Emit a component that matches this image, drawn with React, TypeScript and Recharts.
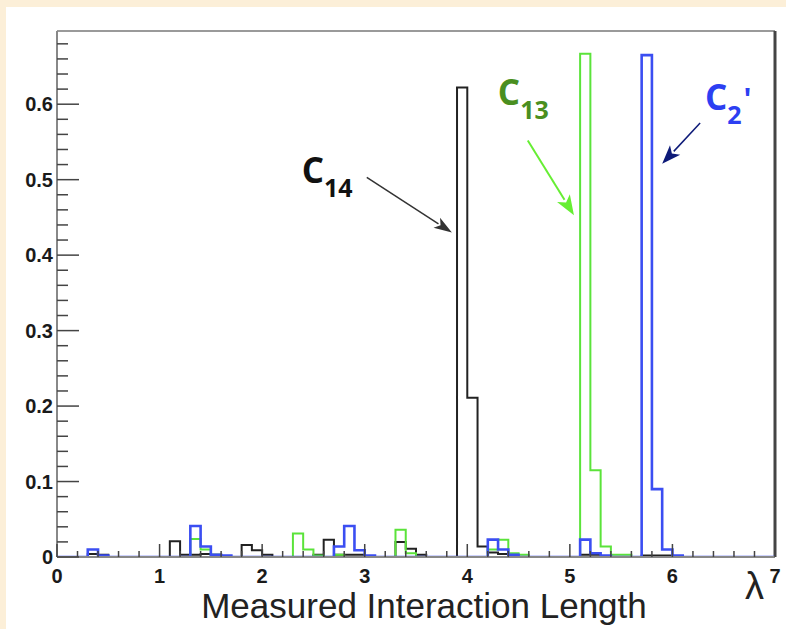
import React from 'react';
import { LineChart, Line, XAxis, YAxis, ReferenceLine, ReferenceDot } from 'recharts';

// Histogram bins of width 0.1 from 0.0 to 7.0 (70 bins each)
const binStarts: number[] = Array.from({ length: 71 }, (_, i) => i / 10);

const c14Values = [
  0, 0, 0, 0.004, 0.003, 0, 0, 0, 0, 0,
  0, 0.021, 0.003, 0.003, 0.004, 0.003, 0, 0, 0.016, 0.009,
  0.003, 0, 0, 0, 0, 0.003, 0.023, 0.003, 0.003, 0.003,
  0, 0, 0, 0.02, 0.011, 0.003, 0, 0, 0, 0.622,
  0.211, 0.014, 0.006, 0.004, 0, 0, 0, 0, 0, 0,
  0, 0.003, 0.003, 0, 0, 0, 0, 0.002, 0.002, 0.002,
  0, 0, 0, 0, 0, 0, 0, 0, 0, 0,
];

const c13Values = [
  0, 0, 0, 0, 0, 0, 0, 0, 0, 0,
  0, 0, 0, 0.024, 0.01, 0.003, 0, 0, 0, 0,
  0, 0, 0, 0.031, 0.01, 0.002, 0, 0.003, 0, 0,
  0, 0, 0, 0.036, 0.005, 0, 0, 0, 0, 0,
  0, 0, 0.01, 0.023, 0.005, 0.003, 0, 0, 0, 0,
  0, 0.667, 0.115, 0.014, 0.003, 0.003, 0, 0, 0, 0,
  0, 0, 0, 0, 0, 0, 0, 0, 0, 0,
];

const c2pValues = [
  0, 0, 0, 0.01, 0.002, 0, 0, 0, 0, 0,
  0, 0, 0, 0.041, 0.014, 0.003, 0.002, 0, 0, 0,
  0, 0, 0, 0, 0, 0, 0, 0.014, 0.041, 0.009,
  0.002, 0, 0, 0, 0, 0, 0, 0, 0, 0,
  0, 0, 0.023, 0.01, 0.003, 0, 0, 0, 0, 0,
  0, 0.023, 0.005, 0.002, 0, 0, 0, 0.665, 0.09, 0.01,
  0.002, 0, 0, 0, 0, 0, 0, 0, 0, 0,
];

const xTicks: number[] = Array.from({ length: 36 }, (_, i) => Math.round(i * 2) / 10);
const yTicks: number[] = Array.from({ length: 35 }, (_, i) => Math.round(i * 2) / 100);
const Y_MAX = 0.697;
const X_MAX = 7;

const data = binStarts.map((x, i) => ({
  x,
  c14: c14Values[Math.min(i, 69)],
  c13: c13Values[Math.min(i, 69)],
  c2p: c2pValues[Math.min(i, 69)],
}));

const FONT = 'Liberation Sans';
const LABEL_FONT = 'Open Sans';

const BLACK = '#222';
const GREEN = '#5be33a';
const BLUE = '#3b4ef2';

const renderYTick = (props: any) => {
  const { x, y, payload } = props;
  const v = payload.value;
  const major = Math.abs(v * 10 - Math.round(v * 10)) < 1e-6;
  const label = v === 0 ? '0' : (Math.round(v * 10) / 10).toString();
  return (
    <g>
      <line x1={x} y1={y} x2={x + (major ? 22 : 11)} y2={y} stroke="#444" strokeWidth={1.5} />
      {major && (
        <text x={x - 4} y={y + 7} textAnchor="end" fontFamily={FONT} fontWeight="bold" fontSize={20} fill="#1a1a1a">
          {label}
        </text>
      )}
    </g>
  );
};

const renderXTick = (props: any) => {
  const { x, y, payload } = props;
  const v = payload.value;
  const major = Math.abs(v - Math.round(v)) < 1e-6;
  return (
    <g>
      <line x1={x} y1={y} x2={x} y2={y - (major ? 13 : 6)} stroke="#444" strokeWidth={1.5} />
      {major && (
        <text x={x} y={y + 26} textAnchor="middle" fontFamily={FONT} fontWeight="bold" fontSize={20} fill="#1a1a1a">
          {String(Math.round(v))}
        </text>
      )}
    </g>
  );
};

const makeArrow = (color: string, width: number, headLen: number, headW: number) => (props: any) => {
  const { x1, y1, x2, y2 } = props;
  const dx = x2 - x1;
  const dy = y2 - y1;
  const len = Math.sqrt(dx * dx + dy * dy) || 1;
  const ux = dx / len;
  const uy = dy / len;
  const bx = x2 - ux * headLen;
  const by = y2 - uy * headLen;
  const px = -uy * headW / 2;
  const py = ux * headW / 2;
  return (
    <g>
      <line x1={x1} y1={y1} x2={bx + ux * 2} y2={by + uy * 2} stroke={color} strokeWidth={width} />
      <polygon points={`${x2},${y2} ${bx + px},${by + py} ${bx + ux * headLen * 0.25},${by + uy * headLen * 0.25} ${bx - px},${by - py}`} fill={color} />
    </g>
  );
};

const makeLabel = (main: string, sub: string, color: string, prime?: boolean) => (props: any) => {
  const { cx, cy } = props;
  return (
    <text x={cx} y={cy} fontFamily={LABEL_FONT} fontWeight="bold" fontSize={35} fill={color}>
      {main}
      <tspan fontSize={25} dy={14}>{sub}</tspan>
      {prime && <tspan fontSize={30} dy={-14} dx={2}>'</tspan>}
    </text>
  );
};

export default function App() {
  return (
    <div style={{ position: 'absolute', left: 0, top: 0, width: 786, height: 629, background: '#fcefd8' }}>
      <div style={{ position: 'absolute', left: 6, top: 7, width: 780, height: 622, background: '#ffffff' }} />
      <div style={{ position: 'absolute', left: 0, top: 0 }}>
        <LineChart width={786} height={629} data={data} margin={{ top: 31, right: 11, bottom: 71, left: 56 }}>
          <XAxis
            dataKey="x"
            type="number"
            domain={[0, X_MAX]}
            ticks={xTicks}
            interval={0}
            height={1}
            tickSize={0}
            tickMargin={0}
            tickLine={false}
            axisLine={{ stroke: '#888', strokeWidth: 2 }}
            tick={renderXTick}
            allowDataOverflow
          />
          <YAxis
            type="number"
            domain={[0, Y_MAX]}
            ticks={yTicks}
            interval={0}
            width={1}
            tickSize={0}
            tickMargin={0}
            tickLine={false}
            axisLine={{ stroke: '#888', strokeWidth: 2 }}
            tick={renderYTick}
            allowDataOverflow
          />
          <ReferenceLine y={Y_MAX} stroke="#9a9a9a" strokeWidth={2} />
          <ReferenceLine x={X_MAX} stroke="#444" strokeWidth={3} />
          <Line type="stepAfter" dataKey="c14" stroke={BLACK} strokeWidth={2} dot={false} isAnimationActive={false} />
          <Line type="stepAfter" dataKey="c13" stroke={GREEN} strokeWidth={2} dot={false} isAnimationActive={false} />
          <Line type="stepAfter" dataKey="c2p" stroke={BLUE} strokeWidth={2.6} dot={false} isAnimationActive={false} />
          <ReferenceLine segment={[{ x: 3.02, y: 0.503 }, { x: 3.85, y: 0.43 }]} shape={makeArrow('#333', 1.5, 18, 12)} />
          <ReferenceLine segment={[{ x: 4.59, y: 0.552 }, { x: 5.04, y: 0.453 }]} shape={makeArrow('#66ee33', 2, 20, 15)} />
          <ReferenceLine segment={[{ x: 6.27, y: 0.575 }, { x: 5.9, y: 0.521 }]} shape={makeArrow('#0d1a78', 1.5, 19, 14)} />
          <ReferenceDot x={2.385} y={0.495} r={0} shape={makeLabel('C', '14', '#111')} />
          <ReferenceDot x={4.298} y={0.599} r={0} shape={makeLabel('C', '13', '#4a8f20')} />
          <ReferenceDot x={6.317} y={0.592} r={0} shape={makeLabel('C', '2', '#2c3ff2', true)} />
          <text x={424} y={618} textAnchor="middle" fontFamily={FONT} fontSize={35} fill="#222">
            Measured Interaction Length
          </text>
          <text x={745} y={599} fontFamily={FONT} fontSize={38} fill="#222">λ</text>
        </LineChart>
      </div>
    </div>
  );
}
